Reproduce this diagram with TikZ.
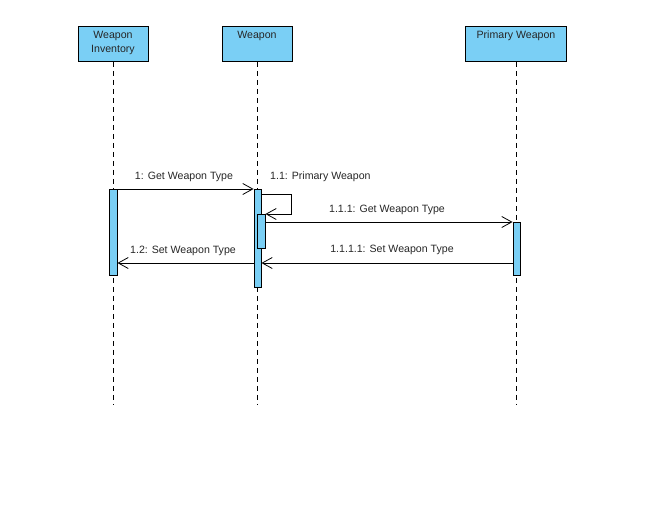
\documentclass[tikz,border=0pt]{standalone}
\usepackage{fontspec}
\setmainfont{Liberation Sans}
\usetikzlibrary{arrows.meta,calc}
\definecolor{headblue}{RGB}{122,207,245}
\begin{document}
\begin{tikzpicture}[x=1pt,y=-1pt,
  font=\fontsize{10.6}{13}\selectfont,
  head/.style={draw=black,fill=headblue,line width=0.9pt,minimum height=35pt,inner sep=0pt,anchor=north},
  bar/.style={draw=black,fill=headblue,line width=0.9pt,minimum width=8pt,inner sep=0pt,anchor=north},
  life/.style={draw=black,line width=0.8pt,dash pattern=on 5pt off 4pt},
  msg/.style={draw=black,line width=0.8pt,-{Straight Barb[length=10pt,width=11pt,line width=0.8pt]}},
  lbl/.style={inner sep=0pt,text=black!85}]
\useasboundingbox (0,0) rectangle (659,514);
% heads
\node[head,minimum width=70pt] (inv) at (113,26) {};
\node[head,minimum width=70pt] (wep) at (257,26) {};
\node[head,minimum width=101pt] (pri) at (516,26) {};
\node[lbl] (invt1) at (113,36) {Weapon};
\node[lbl] (invt2) at (113,50) {Inventory};
\node[lbl] (wept) at (257,36) {Weapon};
\node[lbl] (prit) at (516,36) {Primary Weapon};
% lifelines
\coordinate (invend) at (113,405);
\coordinate (wepend) at (257,405);
\coordinate (priend) at (516,405);
\draw[life] (inv.south) -- (invend);
\draw[life] (wep.south) -- (wepend);
\draw[life] (pri.south) -- (priend);
% activations
\node[bar,minimum height=86pt] (a1) at (113,189) {};
\node[bar,minimum height=98pt,minimum width=7pt] (a2) at (257.5,189) {};
\node[bar,minimum height=34pt] (a3) at (261,214) {};
\node[bar,minimum height=53pt,minimum width=7pt] (a4) at (516.5,222) {};
% messages
\draw[msg] (a1.north east) -- (a2.north west);
\node[lbl] (m1) at (184,177) {1: Get Weapon Type};
\coordinate (s1) at (291,194);
\coordinate (s2) at (291,214);
\draw[msg] (a2.east |- s1) -- (s1) -- (s2) -- (a3.north east);
\node[lbl,anchor=west] (m2) at (270,176.5) {1.1: Primary Weapon};
\draw[msg] (a3.east |- a4.north) -- (a4.north west);
\node[lbl] (m3) at (387,210) {1.1.1: Get Weapon Type};
\coordinate (r1) at (0,263);
\draw[msg] (a4.west |- r1) -- (a2.east |- r1);
\node[lbl] (m4) at (392,249.5) {1.1.1.1: Set Weapon Type};
\draw[msg] (a2.west |- r1) -- (a1.east |- r1);
\node[lbl] (m5) at (183,250.5) {1.2: Set Weapon Type};
\end{tikzpicture}
\end{document}
